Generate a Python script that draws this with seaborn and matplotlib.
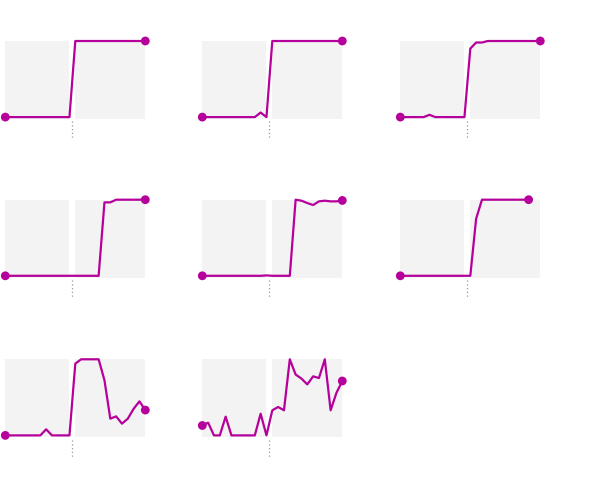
import matplotlib
matplotlib.use("Agg")
import matplotlib.pyplot as plt
import matplotlib.transforms as mtransforms
import seaborn as sns
import pandas as pd

sns.set_theme(style="white")

panel_1 = [0]*12 + [1]*13
panel_2 = [0]*10 + [0.06, 0] + [1]*13
panel_3 = [0, 0, 0, 0, 0, 0.03, 0, 0, 0, 0, 0, 0, 0.90, 0.98, 0.98] + [1]*10
panel_4 = [0]*17 + [0.965, 0.965] + [1]*6
panel_5 = [0]*11 + [0.005] + [0]*4 + [1, 0.987, 0.956, 0.93, 0.978, 0.987, 0.978, 0.978, 0.99]
panel_6 = [0]*13 + [0.75] + [1]*9
panel_7 = [0]*7 + [0.08] + [0]*4 + [0.943, 1, 1, 1, 1, 0.724, 0.22, 0.25, 0.154, 0.22, 0.35, 0.447, 0.333]
panel_8 = [0.13, 0.167, 0, 0, 0.246, 0, 0, 0, 0, 0, 0.285, 0, 0.33, 0.373, 0.33,
           1, 0.8, 0.746, 0.67, 0.776, 0.754, 1, 0.33, 0.56, 0.715]

panels = [panel_1, panel_2, panel_3, panel_4, panel_5, panel_6, panel_7, panel_8]
split_index = 11.5
n_total = 25

LINE = "#b5009b"
GRAY = "#f3f3f3"

fig = plt.figure(figsize=(6.15, 4.99), dpi=100)
W, H = 615, 499
lefts = [5.3, 202.3, 400.3]
bottoms = [119, 277.7, 437.3]
pw, ph = 140, 78

for i, vals in enumerate(panels):
    r, c = divmod(i, 3)
    ax = fig.add_axes([lefts[c] / W, 1 - bottoms[r] / H, pw / W, ph / H])
    ax.axvspan(0, 11, color=GRAY, lw=0, zorder=0)
    ax.axvspan(12, n_total - 1, color=GRAY, lw=0, zorder=0)
    df = pd.DataFrame({"x": range(len(vals)), "y": vals})
    sns.lineplot(data=df, x="x", y="y", ax=ax, color=LINE, lw=1.6, zorder=3)
    ends = df.iloc[[0, -1]]
    sns.scatterplot(data=ends, x="x", y="y", ax=ax, color=LINE, s=40,
                    edgecolor="none", zorder=4, clip_on=False)
    trans = mtransforms.blended_transform_factory(ax.transData, ax.transAxes)
    ax.plot([split_index, split_index], [-0.03, -0.25], transform=trans,
            color="#999999", lw=0.9, ls=(0, (1, 2)), clip_on=False)
    ax.set_xlim(0, n_total - 1)
    ax.set_ylim(-0.025, 1)
    ax.set_xlabel("")
    ax.set_ylabel("")
    ax.set_xticks([])
    ax.set_yticks([])
    for s in ax.spines.values():
        s.set_visible(False)
    ax.patch.set_alpha(0)
    for ln in ax.lines:
        ln.set_clip_on(False)

fig.savefig("out.png", dpi=100)
